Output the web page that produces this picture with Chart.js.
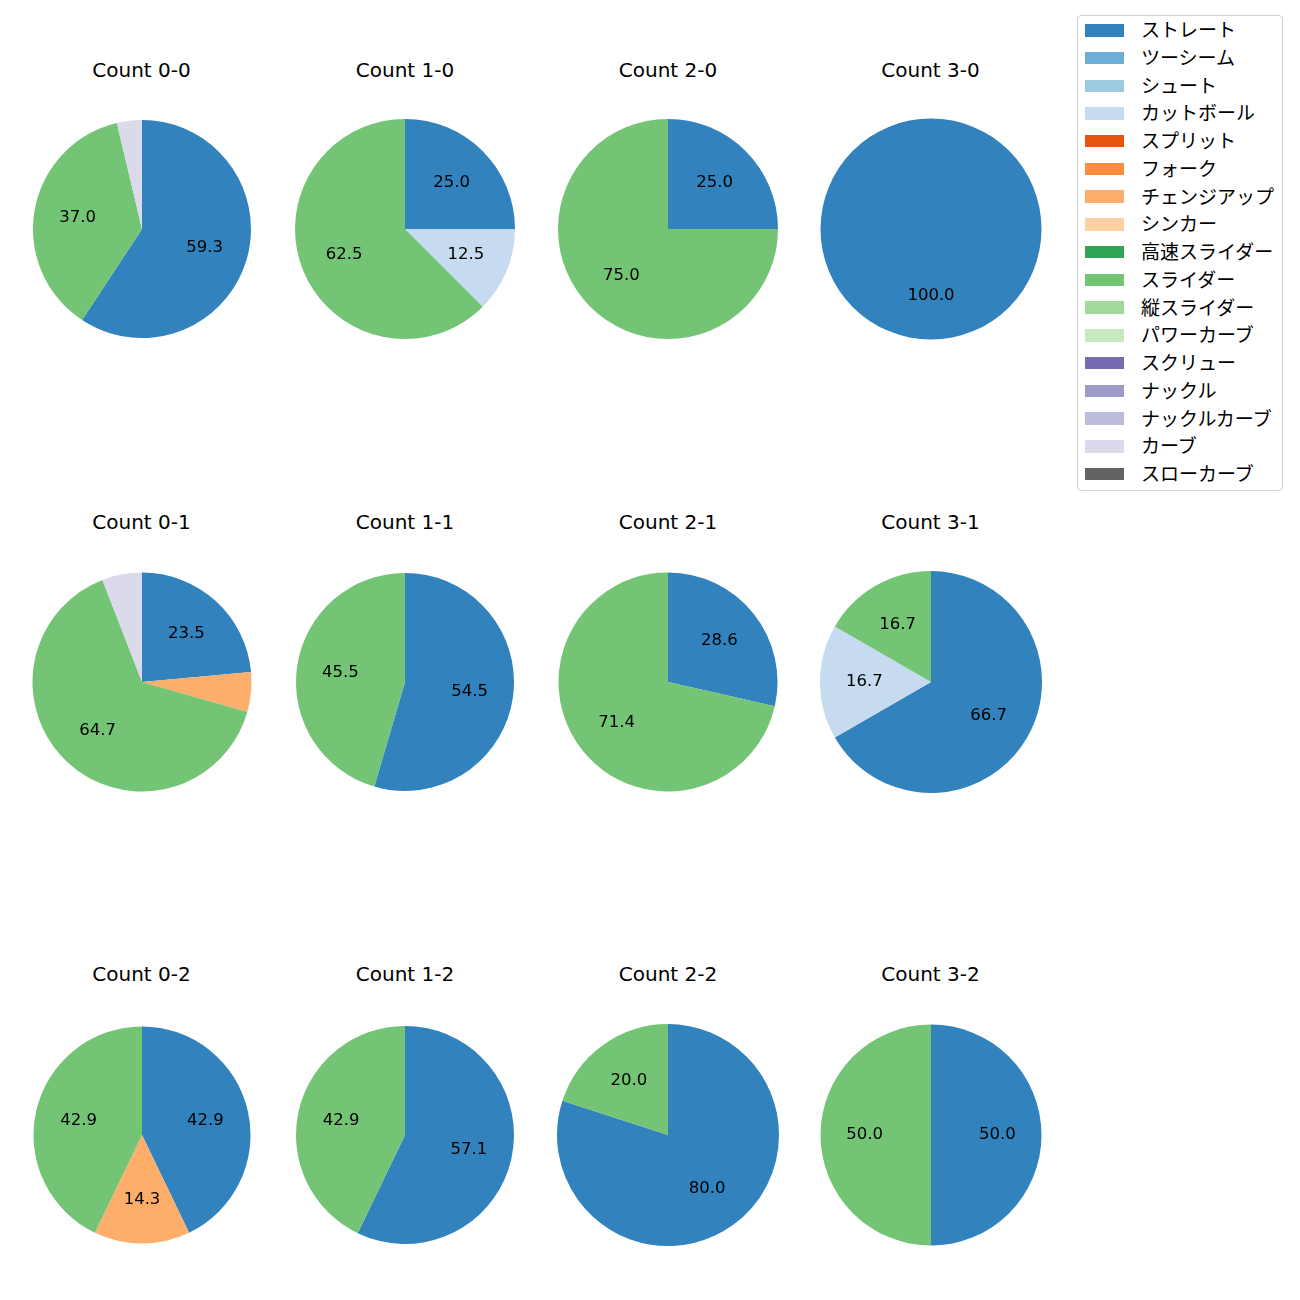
<!DOCTYPE html>
<html>
<head>
<meta charset="utf-8">
<script src="https://cdn.jsdelivr.net/npm/chart.js@4.4.0/dist/chart.umd.min.js"></script>
<style>
  html, body { margin: 0; padding: 0; background: #fff; }
  body { width: 1300px; height: 1300px; position: relative; overflow: hidden;
         font-family: "DejaVu Sans", "Noto Sans CJK JP", sans-serif; }
  .pie { position: absolute; }
  .ttl { position: absolute; width: 240px; text-align: center; font-size: 20px; color: #000;
         line-height: 24px; white-space: nowrap; }
  #legend { position: absolute; left: 1077px; top: 15px; width: 204px; height: 474px;
            border: 1px solid #d0d0d0; border-radius: 4px; background: #fff; }
  .li { position: absolute; left: 0; height: 24px; display: flex; align-items: center; white-space: nowrap; }
  .sw { width: 39px; height: 12.5px; margin-left: 7px; margin-right: 17px; }
  .lt { font-size: 19px; color: #000; line-height: 24px; font-family: "DejaVu Sans", "Noto Sans CJK JP", sans-serif; }
</style>
</head>
<body>
<div id="legend"></div>
<script>
// ---- data ----
const pitchTypes = ['ストレート','ツーシーム','シュート','カットボール','スプリット','フォーク','チェンジアップ','シンカー','高速スライダー','スライダー','縦スライダー','パワーカーブ','スクリュー','ナックル','ナックルカーブ','カーブ','スローカーブ'];
const pitchColors = ['#3182bd','#6baed6','#9ecae1','#c6dbef','#e6550d','#fd8d3c','#fdae6b','#fdd0a2','#31a354','#74c476','#a1d99b','#c7e9c0','#756bb1','#9e9ac8','#bcbddc','#dadaeb','#636363'];
const countLabels = ['Count 0-0','Count 1-0','Count 2-0','Count 3-0','Count 0-1','Count 1-1','Count 2-1','Count 3-1','Count 0-2','Count 1-2','Count 2-2','Count 3-2'];
// pitch counts per ball-strike count (estimated from the shares shown)
//              Str 2S Sht Cut Spl Frk Chg Snk HSl Sld VSl PCv Scr Knk KnC Crv SCv
const count00 = [16, 0, 0, 0, 0, 0, 0, 0, 0, 10, 0, 0, 0, 0, 0, 1, 0];
const count10 = [2,  0, 0, 1, 0, 0, 0, 0, 0, 5,  0, 0, 0, 0, 0, 0, 0];
const count20 = [1,  0, 0, 0, 0, 0, 0, 0, 0, 3,  0, 0, 0, 0, 0, 0, 0];
const count30 = [1,  0, 0, 0, 0, 0, 0, 0, 0, 0,  0, 0, 0, 0, 0, 0, 0];
const count01 = [4,  0, 0, 0, 0, 0, 1, 0, 0, 11, 0, 0, 0, 0, 0, 1, 0];
const count11 = [6,  0, 0, 0, 0, 0, 0, 0, 0, 5,  0, 0, 0, 0, 0, 0, 0];
const count21 = [2,  0, 0, 0, 0, 0, 0, 0, 0, 5,  0, 0, 0, 0, 0, 0, 0];
const count31 = [4,  0, 0, 1, 0, 0, 0, 0, 0, 1,  0, 0, 0, 0, 0, 0, 0];
const count02 = [3,  0, 0, 0, 0, 0, 1, 0, 0, 3,  0, 0, 0, 0, 0, 0, 0];
const count12 = [4,  0, 0, 0, 0, 0, 0, 0, 0, 3,  0, 0, 0, 0, 0, 0, 0];
const count22 = [4,  0, 0, 0, 0, 0, 0, 0, 0, 1,  0, 0, 0, 0, 0, 0, 0];
const count32 = [1,  0, 0, 0, 0, 0, 0, 0, 0, 1,  0, 0, 0, 0, 0, 0, 0];
const countValues = [count00,count10,count20,count30,count01,count11,count21,count31,count02,count12,count22,count32];

// ---- layout ----
const colX = [141.5, 405, 668, 930.5];
const rowY = [229, 682, 1135];
const titleY = [69, 521, 973];
const radii = [109, 110, 110, 110.5, 109.5, 109, 109.5, 111, 108.5, 109, 111, 110.5];
const CANVAS = 250;

const pctLabels = {
  id: 'pctLabels',
  afterDatasetsDraw(chart) {
    const ctx = chart.ctx;
    const ds = chart.data.datasets[0];
    const total = ds.data.reduce((a, b) => a + b, 0);
    const meta = chart.getDatasetMeta(0);
    ctx.save();
    ctx.font = '16.5px "DejaVu Sans", "Noto Sans CJK JP", sans-serif';
    ctx.fillStyle = '#000';
    ctx.textAlign = 'center';
    ctx.textBaseline = 'middle';
    meta.data.forEach((arc, i) => {
      const v = ds.data[i];
      const pct = v / total * 100;
      if (pct < 10) return;
      const p = arc.getProps(['x','y','startAngle','endAngle','outerRadius'], true);
      const mid = (p.startAngle + p.endAngle) / 2;
      const r = p.outerRadius * 0.6;
      ctx.fillText(pct.toFixed(1), p.x + Math.cos(mid) * r, p.y + Math.sin(mid) * r);
    });
    ctx.restore();
  }
};

countLabels.forEach((lab, k) => {
  const row = Math.floor(k / 4), col = k % 4;
  const cx = colX[col], cy = rowY[row];
  const cv = document.createElement('canvas');
  cv.className = 'pie';
  cv.width = CANVAS; cv.height = CANVAS;
  cv.style.width = CANVAS + 'px'; cv.style.height = CANVAS + 'px';
  cv.style.left = (cx - CANVAS / 2) + 'px';
  cv.style.top = (cy - CANVAS / 2) + 'px';
  document.body.appendChild(cv);
  new Chart(cv, {
    type: 'pie',
    data: {
      labels: pitchTypes,
      datasets: [{ data: countValues[k], backgroundColor: pitchColors, borderWidth: 0 }]
    },
    options: {
      responsive: false,
      animation: false,
      radius: radii[k],
      layout: { padding: 0 },
      plugins: { legend: { display: false }, tooltip: { enabled: false }, title: { display: false } }
    },
    plugins: [pctLabels]
  });
  const t = document.createElement('div');
  t.className = 'ttl';
  t.textContent = lab;
  t.style.left = (cx - 120) + 'px';
  t.style.top = (titleY[row] - 11.5) + 'px';
  document.body.appendChild(t);
});

const legend = document.getElementById('legend');
pitchTypes.forEach((name, i) => {
  const li = document.createElement('div');
  li.className = 'li';
  li.style.top = (29.3 - 15 - 12 + i * 27.73) + 'px';
  const sw = document.createElement('div');
  sw.className = 'sw';
  sw.style.background = pitchColors[i];
  const tx = document.createElement('span');
  tx.className = 'lt';
  tx.textContent = name;
  li.appendChild(sw); li.appendChild(tx);
  legend.appendChild(li);
});
</script>
</body>
</html>
